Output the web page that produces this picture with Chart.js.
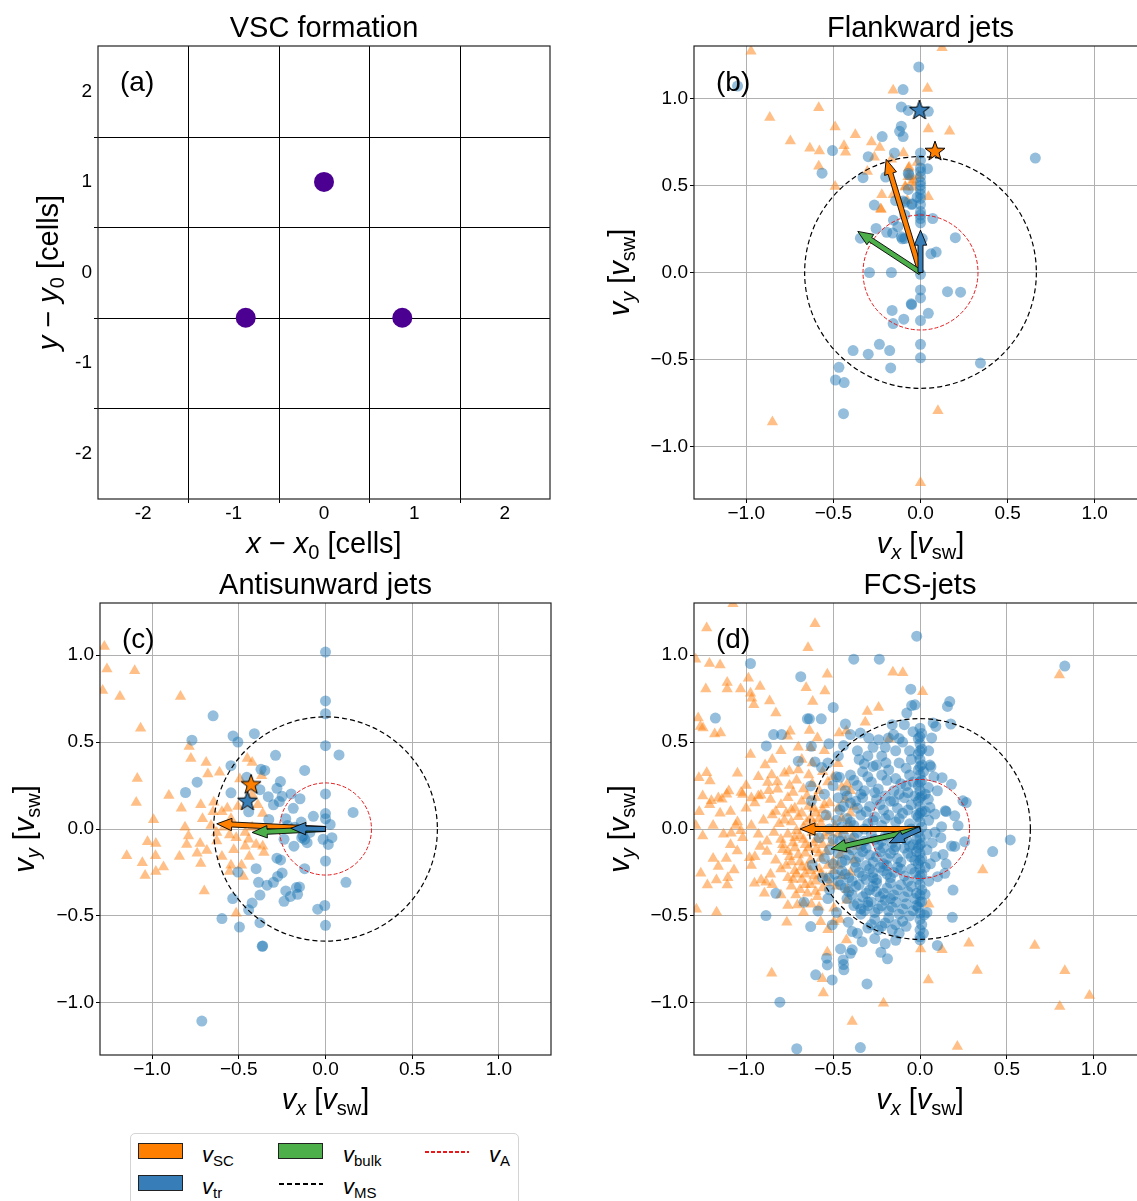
<!DOCTYPE html>
<html>
<head>
<meta charset="utf-8">
<script src="https://cdn.jsdelivr.net/npm/chart.js@4.4.1/dist/chart.umd.min.js"></script>
<style>
  html, body { margin: 0; padding: 0; background: #fff; width: 1137px; height: 1201px; overflow: hidden; position: relative; }
  canvas { position: absolute; }
  #legend { position: absolute; left: 130px; top: 1133px; width: 387px; height: 90px; border: 1px solid #d4d4d4; border-radius: 5px; background: #fff; }
  #legend .patch { position: absolute; width: 45px; height: 16px; border: 1px solid #222; box-sizing: border-box; }
  #legend .dash { position: absolute; width: 44px; height: 1.5px; }
  #legend .lbl { position: absolute; font-family: "Liberation Sans", Arial, sans-serif; font-size: 22px; line-height: 22px; color: #000; white-space: nowrap; }
  #legend .lbl i { font-style: italic; }
  #legend .lbl sub { font-size: 15px; vertical-align: -4px; }
</style>
</head>
<body>
<canvas id="pa" width="572" height="583"></canvas>
<canvas id="pb" width="573" height="583"></canvas>
<canvas id="pc" width="571" height="582"></canvas>
<canvas id="pd" width="572" height="582"></canvas>

<div id="legend">
  <div class="patch" style="left:7px;top:9px;background:#ff7f00"></div>
  <div class="lbl" style="left:71px;top:10px"><i>v</i><sub>SC</sub></div>
  <div class="patch" style="left:147px;top:9px;background:#4daf4a"></div>
  <div class="lbl" style="left:212px;top:10px"><i>v</i><sub>bulk</sub></div>
  <div class="dash" style="left:294px;top:17px;background:repeating-linear-gradient(90deg,#e41a1c 0 4px,transparent 4px 6px)"></div>
  <div class="lbl" style="left:358px;top:10px"><i>v</i><sub>A</sub></div>
  <div class="patch" style="left:7px;top:41px;background:#377eb8"></div>
  <div class="lbl" style="left:71px;top:42px"><i>v</i><sub>tr</sub></div>
  <div class="dash" style="left:148px;top:49px;background:repeating-linear-gradient(90deg,#000 0 5px,transparent 5px 8px)"></div>
  <div class="lbl" style="left:212px;top:42px"><i>v</i><sub>MS</sub></div>
</div>

<script>
// ── Data ──────────────────────────────────────────────────
// (a) virtual spacecraft positions, in cells
const formationPos = [[0, 1], [-0.866, -0.5], [0.866, -0.5]];
const cellTicks = [-2, -1, 0, 1, 2];
const cellGrid  = [-1.5, -0.5, 0.5, 1.5];
const jetTicks  = [-1.0, -0.5, 0, 0.5, 1.0];

// (b) flankward jets
const flankSC = [
  [-0.973,1.27],[0.124,1.29],[-0.157,1.046],[0.04,1.056],[-0.584,0.946],[-0.865,0.889],[-0.49,0.835],
  [0.045,0.824],[0.167,0.81],[-0.374,0.79],[-0.747,0.755],[-0.281,0.749],[-0.439,0.728],[-0.234,0.717],
  [-0.635,0.713],[-0.58,0.697],[-0.43,0.69],[-0.098,0.686],[-0.265,0.661],[-0.167,0.65],[-0.584,0.61],
  [-0.069,0.598],[-0.305,0.58],[-0.49,0.494],[-0.088,0.494],[-0.05,0.52],[-0.06,0.55],[-0.222,0.446],
  [-0.157,0.446],[0.045,0.435],[-0.226,0.362],[0.1,-0.793],[-0.85,-0.858],[0,-1.207],
  [-0.065,0.604],[-0.019,0.632],[-0.072,0.55],[-0.038,0.531],[-0.086,0.489],[-0.042,0.489],
  [-0.076,0.413],[-0.01,0.556],[-0.229,0.365]
];
const flankTr = [
  [-0.01,1.18],[-0.10,1.05],[-0.11,0.95],[-0.07,0.93],[0.045,0.925],[-0.11,0.84],[-0.12,0.81],[-0.10,0.78],
  [-0.22,0.78],[-0.505,0.70],[-0.30,0.665],[-0.15,0.686],[0,0.686],[0,0.644],[-0.565,0.57],[-0.33,0.544],
  [-0.20,0.548],[-0.07,0.57],[0.04,0.596],[0,0.60],[0,0.58],[0,0.55],[0,0.52],[0,0.50],[0,0.477],[0,0.45],
  [0,0.425],[0,0.39],[0,0.35],[0,0.33],[0,0.31],[0,0.285],[0.07,0.31],[-0.07,0.477],[-0.05,0.39],
  [-0.10,0.41],[-0.09,0.33],[-0.265,0.387],[-0.155,0.30],[-0.255,0.253],[-0.13,0.263],[-0.16,0.226],
  [-0.11,0.205],[-0.09,0.195],[-0.345,0.197],[0.01,0.195],[0.2,0.2],[0.06,0.107],[0.09,0.117],
  [-0.293,0],[-0.167,0],[0,-0.01],[0,-0.1],[0,-0.146],[0.155,-0.11],[0.23,-0.113],[-0.053,-0.18],
  [-0.163,-0.218],[0.045,-0.234],[-0.096,-0.268],[0,-0.276],[-0.157,-0.293],[0,-0.412],[-0.236,-0.412],
  [-0.177,-0.448],[-0.387,-0.448],[-0.30,-0.469],[0,-0.49],[0.344,-0.52],[-0.468,-0.544],[-0.171,-0.548],
  [-0.488,-0.617],[-0.438,-0.632],[-0.442,-0.81],[0.659,0.657],[-1.05,1.07],
  [-0.067,0.56],[-0.143,0.413],[-0.091,0.403],[-0.048,0.394],[-0.019,0.432],[-0.194,0.231],[-0.105,0.193],
  [-0.051,-0.185]
];
const flankStarSC = [[0.083, 0.697]];
const flankStarTr = [[-0.006, 0.933]];
const flankVec = { sc: [-0.197, 0.65], bulk: [-0.36, 0.236], tr: [0, 0.243] };
const flankRadii = [0.665, 0.33];   // vMS, vA

// (c) antisunward jets
const antiSC = [
  [-1.275,1.05],[-1.26,0.921],[-1.10,0.911],[-1.285,0.796],[-1.185,0.762],[-0.836,0.762],[-1.066,0.58],
  [-0.786,0.475],[-0.776,0.406],[-0.688,0.382],[-0.678,0.317],[-0.611,0.327],[-1.085,0.291],[-0.451,0.406],
  [-0.423,0.382],[-0.494,0.287],[-0.368,0.307],[-1.091,0.152],[-0.903,0.192],[-0.831,0.119],[-0.719,0.139],
  [-0.709,0.059],[-0.644,0.154],[-0.597,0.099],[-0.566,0.119],[-0.505,0.129],[-0.991,0.053],[-0.81,0.01],
  [-0.79,-0.04],[-1.026,-0.073],[-0.978,-0.083],[-0.80,-0.089],[-0.723,-0.083],[-0.627,-0.069],
  [-0.553,-0.034],[-0.515,-0.05],[-0.443,-0.059],[-0.40,-0.089],[-0.362,-0.099],[-0.355,-0.135],
  [-1.146,-0.154],[-0.98,-0.154],[-0.842,-0.158],[-0.74,-0.139],[-0.684,-0.123],[-0.597,-0.158],
  [-0.529,-0.119],[-0.463,-0.099],[-0.439,-0.158],[-1.056,-0.194],[-0.719,-0.198],[-0.545,-0.208],
  [-0.484,-0.208],[-0.934,-0.218],[-0.978,-0.244],[-1.04,-0.267],[-0.553,-0.244],[-0.474,-0.273],
  [-0.699,-0.356],[-0.515,-0.485],[-0.648,0.099],[-0.66,0.02],[-0.627,-0.02],[-0.586,0.01],
  [-0.463,-0.02],[-0.423,0.01],[-0.545,0.059],[-0.362,0.089],[-0.423,0.198],[-0.39,0.14]
];
const antiTr = [
  [0,1.018],[0,0.737],[0,0.663],[-0.648,0.651],[-0.77,0.511],[-0.533,0.535],[-0.505,0.50],[-0.41,0.548],
  [0,0.479],[0.078,0.426],[-0.288,0.424],[-0.12,0.337],[-0.545,0.364],[-0.372,0.343],[-0.35,0.337],
  [-0.74,0.269],[-0.807,0.21],[-0.545,0.208],[-0.454,0.297],[-0.378,0.226],[-0.26,0.273],[-0.28,0.234],
  [-0.25,0.188],[-0.33,0.186],[-0.30,0.139],[-0.266,0.158],[-0.198,0.202],[-0.147,0.174],[-0.186,0.119],
  [0,0.202],[0.159,0.095],[-0.07,0.073],[0,0.089],[0,0.059],[0.027,0.026],[-0.327,0.055],[-0.229,0.059],
  [-0.219,0.02],[-0.178,0.01],[-0.137,-0.05],[-0.106,-0.079],[-0.239,-0.059],[-0.182,-0.099],
  [-0.259,-0.178],[-0.28,-0.168],[-0.12,-0.228],[-0.014,-0.059],[0.037,-0.05],[0.016,-0.089],[0,-0.184],
  [-0.40,-0.228],[-0.25,-0.253],[-0.276,-0.273],[-0.386,-0.307],[-0.337,-0.323],[-0.30,-0.307],
  [0.118,-0.307],[-0.505,-0.248],[-0.168,-0.337],[-0.15,-0.333],[-0.229,-0.356],[-0.378,-0.38],
  [-0.535,-0.40],[-0.423,-0.426],[-0.239,-0.416],[-0.202,-0.388],[-0.161,-0.376],[-0.045,-0.461],
  [-0.004,-0.44],[-0.443,-0.465],[-0.597,-0.515],[-0.378,-0.539],[-0.496,-0.564],[0,-0.554],
  [-0.362,-0.673],[-0.365,-0.675],[-0.713,-1.105],[-0.443,0.099],[-0.12,-0.06],[-0.09,-0.02],
  [-0.13,-0.04],[-0.14,0.04]
];
const antiStarSC = [[-0.429, 0.257]];
const antiStarTr = [[-0.45, 0.162]];
const antiVec = { sc: [-0.627, 0.03], bulk: [-0.423, -0.02], tr: [-0.2, 0.004] };
const antiRadii = [0.645, 0.265];

// (d) FCS-jets
const fcsSC = [
  // upper left
  [-1.076,1.295],[-1.227,1.156],[-0.604,1.181],[-0.644,1.042],[-1.211,0.952],[-1.15,0.943],[-1.29,0.977],
  [-0.987,0.867],[-1.109,0.842],[-1.109,0.806],[-1.232,0.806],[-1.032,0.806],[-0.92,0.819],[-0.975,0.781],
  [-0.968,0.752],[-0.956,0.714],[-0.865,0.737],[-0.655,0.813],[-0.547,0.794],[-0.533,0.89],[-0.617,0.733],
  [-0.303,0.676],[-0.238,0.699],[-0.156,0.901],[-0.099,0.899],[-0.829,0.667],[-1.276,0.638],[-1.263,0.59],
  [-1.248,0.581],[-1.181,0.547],[-1.147,0.552],[-0.747,0.562],[-0.762,0.533],[-0.636,0.566],[-0.59,0.524],
  [-0.465,0.552],[-0.629,0.467],[-0.975,0.429],[-0.472,0.375],[-0.891,0.368],[-1.227,0.324],[-1.208,0.276],
  [-1.272,0.295],[-0.853,0.31],[-0.752,0.333],[-0.876,0.267],[-0.419,0.257],[-1.112,0.2],[-1.029,0.21],
  [-0.93,0.19],[-0.819,0.229],[-1.2,0.162],[-1.139,0.171],[-0.315,0.614],[-0.177,0.519],[-0.423,0.564],
  [-0.85,0.40],[-0.80,0.45],[-0.70,0.47],[-0.68,0.40],[-0.62,0.38],[-0.55,0.45],[-0.93,0.30],[-1.0,0.25],
  [-1.05,0.32],
  // dense band
  [-0.78,0.32],[-0.70,0.34],[-0.64,0.31],[-0.56,0.33],[-0.50,0.30],
  [-0.82,0.27],[-0.75,0.25],[-0.71,0.28],[-0.67,0.23],[-0.62,0.26],[-0.58,0.22],[-0.53,0.27],[-0.45,0.24],[-0.40,0.22],
  [-0.86,0.17],[-0.80,0.14],[-0.76,0.18],[-0.72,0.12],[-0.68,0.16],[-0.64,0.13],[-0.60,0.18],[-0.56,0.11],
  [-0.52,0.15],[-0.47,0.12],[-0.43,0.17],[-0.38,0.13],[-0.95,0.15],[-1.0,0.12],
  [-0.90,0.05],[-0.85,0.08],[-0.81,0.03],[-0.77,0.09],[-0.74,0.04],[-0.70,0.07],[-0.67,0.01],[-0.63,0.06],
  [-0.60,0.09],[-0.57,0.03],[-0.53,0.07],[-0.49,0.02],[-0.45,0.06],[-0.41,0.03],[-0.97,0.02],[-1.05,0.04],
  [-0.93,-0.03],[-0.88,-0.07],[-0.84,-0.02],[-0.80,-0.06],[-0.76,-0.03],[-0.73,-0.08],[-0.69,-0.04],
  [-0.66,-0.09],[-0.62,-0.02],[-0.59,-0.06],[-0.55,-0.04],[-0.51,-0.08],[-0.47,-0.03],[-0.43,-0.07],
  [-0.39,-0.05],[-1.02,-0.05],
  [-0.95,-0.16],[-0.88,-0.13],[-0.83,-0.18],[-0.79,-0.12],[-0.75,-0.16],[-0.72,-0.11],[-0.69,-0.19],
  [-0.66,-0.14],[-0.63,-0.18],[-0.60,-0.12],[-0.57,-0.17],[-0.54,-0.13],[-0.50,-0.19],[-0.46,-0.15],
  [-0.42,-0.12],[-0.38,-0.18],
  [-0.86,-0.26],[-0.80,-0.23],[-0.76,-0.28],[-0.72,-0.24],[-0.68,-0.29],[-0.65,-0.22],[-0.61,-0.27],
  [-0.58,-0.23],[-0.54,-0.28],[-0.50,-0.24],[-0.45,-0.27],[-0.40,-0.25],
  [-0.74,-0.33],[-0.69,-0.35],[-0.63,-0.32],[-0.56,-0.34],[-0.48,-0.33],[-0.42,-0.35],
  [-0.78,0.05],[-0.74,0.11],[-0.71,-0.01],[-0.68,0.09],[-0.65,0.04],[-0.61,0.12],[-0.58,0.06],[-0.55,0.14],
  [-0.79,-0.09],[-0.76,-0.13],[-0.72,-0.05],[-0.70,-0.15],[-0.67,-0.06],[-0.64,-0.11],[-0.61,-0.08],
  [-0.58,-0.14],[-0.56,-0.09],
  [-0.77,-0.21],[-0.74,-0.19],[-0.71,-0.26],[-0.68,-0.22],[-0.66,-0.26],[-0.63,-0.24],[-0.60,-0.30],
  [-0.57,-0.26],[-0.53,-0.21],[-0.73,-0.29],[-0.66,-0.32],[-0.60,-0.36],[-0.52,-0.31],
  [-0.83,0.10],[-0.87,0.22],[-0.73,0.21],[-0.65,0.19],[-0.61,0.03],[-0.47,-0.21],[-0.44,-0.01],
  [-0.52,-0.02],[-0.40,0.09],[-0.36,-0.10],
  [-0.92,-0.10],[-0.97,-0.21],[-0.85,-0.32],[-0.80,-0.38],[-0.76,-0.44],[-0.67,-0.48],[-0.58,-0.45],
  [-0.53,-0.58],[-0.46,-0.52],
  // far left
  [-1.27,0.099],[-1.21,0.139],[-1.16,0.178],[-1.25,0.19],[-1.29,0.02],[-1.10,0.218],[-1.02,0.198],
  [-0.97,0.178],[-0.915,0.194],[-1.09,0.1],[-1.15,0.09],[-1.19,0.02],[-1.06,0.02],[-1.03,-0.01],
  [-1.13,-0.03],[-1.09,-0.09],[-1.25,-0.04],[-1.19,-0.17],
  // lower left
  [-0.853,-0.83],[-0.766,-0.536],[-1.17,-0.479],[-1.286,-0.462],[-0.556,-0.944],[-0.562,-0.862],
  [-0.533,-0.709],[-0.423,-0.638],[-0.39,-1.107],[-0.21,-1.002],[-0.495,-0.533],[-0.571,-0.533],
  [-0.895,-0.37],[-1.223,-0.322],[-1.171,-0.293],[-1.109,-0.322],[-1.261,-0.255],[-1.16,-0.216],
  [-1.07,-0.236],[-1.105,-0.28],[-1.114,-0.169],[-1.051,-0.126],[-0.981,-0.165],[-0.914,-0.293],
  [-0.952,-0.312],[-0.886,-0.307],[-1.086,-0.025],[-0.714,-0.379],[-0.648,-0.37],[-0.59,-0.389],
  [-0.705,-0.437],[-0.625,-0.433],[-0.495,-0.456],[-0.42,-0.41],[-0.669,-0.426],
  // right side
  [0.361,-0.236],[0.051,-0.433],[0.004,-0.69],[0.127,-0.695],[0.281,-0.657],[0.66,-0.67],[0.329,-0.814],
  [0.048,-0.868],[0.833,-0.816],[0.975,-0.958],[0.804,-1.021],[0.215,-1.251],[0.015,0.79],[0.802,0.886]
];
const fcsTr = [
  // outer points
  [-0.019,1.109],[-0.381,0.977],[-0.234,0.977],[-0.975,0.952],[-0.686,0.876],[-0.053,0.804],[-0.048,0.71],
  [-0.499,0.699],[-1.177,0.638],[-0.648,0.634],[-0.636,0.634],[-0.568,0.634],[-0.076,0.667],[-0.429,0.604],
  [-0.343,0.552],[-0.4,0.543],[-0.842,0.543],[-0.796,0.543],[-0.524,0.49],[-0.884,0.478],[-0.625,0.476],
  [-0.295,0.524],[-0.238,0.514],[-0.181,0.524],[-0.152,0.543],[-0.32,0.375],[-0.251,0.368],[-0.196,0.381],
  [-0.566,0.354],[-0.629,0.248],[-0.625,0.162],[-0.70,0.39],[-0.604,0.386],[-0.463,0.297],
  [0.833,0.937],[0.171,0.733],[0.158,0.705],[-0.029,0.714],[0.076,0.61],[0.091,0.59],[0.177,0.604],
  [0.067,0.524],[0.057,0.368],[0.063,0.358],[0.127,0.295],[0.181,0.257],[0.048,0.238],[0.247,0.162],
  [0.266,0.152],[0.146,0.105],[0.086,0.086],[0.2,0.076],[0.219,0.019],[0.124,0.013],[0.048,0.171],[0.057,0.124],
  [0.519,-0.063],[0.418,-0.13],[0.257,-0.073],[0.181,-0.098],[0.133,-0.146],[0.089,-0.159],[0.143,-0.255],
  [0.101,-0.274],[0.19,-0.351],[0.029,-0.375],[0.01,-0.418],[0,-0.485],[0.025,-0.494],[0.186,-0.508],
  [0,-0.58],[0,-0.638],[0.1,-0.67],[0.086,-0.019],
  [-0.829,-0.37],[-0.886,-0.498],[-0.629,-0.561],[-0.505,-0.552],[-0.413,-0.536],[-0.587,-0.471],
  [-0.667,-0.421],[-0.39,-0.59],[-0.36,-0.6],[-0.333,-0.648],[-0.457,-0.69],[-0.39,-0.695],[-0.4,-0.715],
  [-0.537,-0.743],[-0.533,-0.782],[-0.442,-0.753],[-0.438,-0.81],[-0.44,-0.78],[-0.225,-0.709],
  [-0.187,-0.747],[-0.6,-0.839],[-0.505,-0.868],[-0.305,-0.891],[-0.806,-0.996],[-0.709,-1.264],
  [-0.343,-1.257],[-0.619,-0.207],[-0.524,-0.284],[-0.52,-0.35],[-0.457,-0.322],[-0.42,-0.40],
  [-0.38,-0.44],[-0.34,-0.46],[-0.30,-0.42],
  // column near vx = 0
  [0,0.58],[0.01,0.55],[-0.01,0.52],[0,0.49],[0.01,0.46],[-0.01,0.43],[0,0.40],[0.01,0.37],[-0.01,0.34],
  [0,0.31],[0.01,0.28],[-0.01,0.25],[0,0.22],[0.01,0.19],[-0.01,0.16],[0,0.13],[0.01,0.10],[-0.01,0.07],
  [0,0.04],[0.01,0.01],[-0.01,-0.02],[0,-0.05],[0.01,-0.08],[-0.01,-0.11],[0,-0.14],[0.01,-0.17],
  [-0.01,-0.20],[0,-0.23],[0.01,-0.26],[-0.01,-0.29],[0,-0.32],[0.01,-0.35],[-0.01,-0.45],[0,-0.52],
  [0.01,-0.55],[0,-0.62],[0,0.53],[0,0.45],[0,0.36],[0,0.27],[0,0.18],[0,0.09],[0,-0.09],[0,-0.18],
  [0,-0.27],[0,-0.38],[0,-0.42],
  // dense core
  [-0.33,0.33],[-0.27,0.36],[-0.18,0.34],[-0.12,0.38],[-0.06,0.31],[-0.40,0.31],
  [-0.36,0.25],[-0.32,0.22],[-0.28,0.27],[-0.24,0.23],[-0.19,0.28],[-0.15,0.22],[-0.11,0.26],[-0.07,0.21],
  [-0.04,0.27],[-0.43,0.22],
  [-0.40,0.15],[-0.36,0.12],[-0.33,0.18],[-0.29,0.13],[-0.25,0.17],[-0.21,0.11],[-0.17,0.16],[-0.13,0.12],
  [-0.09,0.18],[-0.05,0.14],[-0.46,0.11],
  [-0.42,0.06],[-0.38,0.02],[-0.34,0.08],[-0.30,0.03],[-0.26,0.07],[-0.22,0.02],[-0.18,0.08],[-0.14,0.04],
  [-0.10,0.09],[-0.06,0.03],[-0.48,0.05],
  [-0.44,-0.04],[-0.40,-0.08],[-0.36,-0.02],[-0.32,-0.07],[-0.28,-0.03],[-0.24,-0.09],[-0.20,-0.04],
  [-0.16,-0.08],[-0.12,-0.02],[-0.08,-0.06],[-0.04,-0.09],
  [-0.47,-0.14],[-0.43,-0.18],[-0.39,-0.12],[-0.35,-0.16],[-0.31,-0.11],[-0.27,-0.19],[-0.23,-0.13],
  [-0.19,-0.17],[-0.15,-0.12],[-0.11,-0.19],[-0.07,-0.14],[-0.03,-0.18],[-0.29,-0.15],[-0.21,-0.2],
  [-0.45,-0.24],[-0.41,-0.28],[-0.37,-0.22],[-0.33,-0.27],[-0.29,-0.23],[-0.25,-0.29],[-0.21,-0.24],
  [-0.17,-0.28],[-0.13,-0.22],[-0.09,-0.27],[-0.05,-0.23],[-0.31,-0.29],[-0.19,-0.21],[-0.27,-0.25],
  [-0.43,-0.34],[-0.39,-0.38],[-0.35,-0.32],[-0.31,-0.37],[-0.27,-0.33],[-0.23,-0.39],[-0.19,-0.34],
  [-0.15,-0.38],[-0.11,-0.32],[-0.07,-0.36],[-0.03,-0.40],[-0.25,-0.36],[-0.17,-0.31],
  [-0.36,-0.43],[-0.32,-0.47],[-0.28,-0.42],[-0.24,-0.46],[-0.20,-0.41],[-0.16,-0.45],[-0.12,-0.49],
  [-0.08,-0.43],[-0.04,-0.47],
  [-0.26,-0.52],[-0.22,-0.56],[-0.18,-0.51],[-0.14,-0.55],[-0.30,-0.57],[-0.10,-0.53],
  [-0.38,0.28],[-0.30,0.30],[-0.22,0.31],[-0.14,0.29],[-0.08,0.25],
  [-0.42,0.19],[-0.34,0.20],[-0.26,0.21],[-0.20,0.19],[-0.12,0.20],[-0.03,0.19],
  [-0.44,0.13],[-0.37,0.16],[-0.31,0.10],[-0.23,0.14],[-0.15,0.16],[-0.07,0.11],[-0.02,0.08],
  [-0.45,0.01],[-0.40,0.04],[-0.32,0.00],[-0.27,0.05],[-0.20,0.06],[-0.12,0.06],[-0.05,0.00],
  [-0.46,-0.07],[-0.38,-0.05],[-0.34,-0.10],[-0.26,-0.06],[-0.22,-0.07],[-0.18,-0.02],[-0.14,-0.10],
  [-0.10,-0.05],[-0.06,-0.10],[-0.02,-0.06],
  [-0.45,-0.19],[-0.41,-0.15],[-0.37,-0.19],[-0.33,-0.13],[-0.25,-0.16],[-0.21,-0.11],[-0.17,-0.14],
  [-0.13,-0.17],[-0.09,-0.11],[-0.05,-0.16],[-0.02,-0.13],
  [-0.47,-0.30],[-0.43,-0.26],[-0.39,-0.30],[-0.35,-0.25],[-0.31,-0.21],[-0.27,-0.28],[-0.23,-0.22],
  [-0.19,-0.26],[-0.15,-0.25],[-0.11,-0.23],[-0.07,-0.30],[-0.03,-0.25],
  [-0.41,-0.36],[-0.37,-0.33],[-0.33,-0.39],[-0.29,-0.35],[-0.25,-0.31],[-0.21,-0.37],[-0.17,-0.40],
  [-0.13,-0.35],[-0.09,-0.39],[-0.05,-0.33],[-0.02,-0.37],
  [-0.34,-0.49],[-0.30,-0.44],[-0.26,-0.48],[-0.22,-0.44],[-0.18,-0.47],[-0.14,-0.42],[-0.10,-0.46],
  [-0.06,-0.50],[-0.02,-0.44],
  [-0.28,-0.55],[-0.24,-0.58],[-0.20,-0.54],[-0.16,-0.58],[-0.12,-0.60],[-0.08,-0.56],[-0.26,-0.63],
  [-0.20,-0.66],[-0.14,-0.64],
  [-0.54,0.08],[-0.52,0.0],[-0.50,-0.06],[-0.55,-0.17],[-0.49,-0.26],[-0.53,-0.40],[-0.48,-0.48],
  [-0.35,0.40],[-0.30,0.42],[-0.20,0.47],[-0.12,0.52],[-0.05,0.40],[-0.08,0.35],
  [0.03,0.10],[0.04,-0.03],[0.03,-0.22],[0.07,-0.08],[0.02,0.33],[0.05,0.45],[0.04,-0.48],[0.02,-0.6],
  [0.05,0.05],[0.04,-0.12],[0.06,-0.2],[0.03,0.2],[0.08,0.3],[0.1,0.22],[0.12,-0.05],[0.15,0.1],
  [0.2,-0.1],[0.15,-0.2],[0.05,-0.3],
  [-0.55,0.2],[-0.5,0.25],[-0.47,0.18],[-0.58,-0.05],[-0.52,-0.12],[-0.5,-0.2],[-0.56,-0.28],[-0.48,0.3],
  [-0.53,0.38],[-0.47,0.42],[-0.44,0.48],[-0.36,0.45],[-0.27,0.47],[-0.22,0.42],[-0.14,0.45],[-0.1,0.5],
  [-0.06,0.45],[-0.09,0.6],[-0.04,0.56],[-0.16,0.6]
];
const fcsVec = { sc: [-0.69, 0.0], bulk: [-0.512, -0.115], tr: [-0.177, -0.08] };
const fcsRadii = [0.635, 0.285];

// ── Style ─────────────────────────────────────────────────
const FONT = '"Liberation Sans", Arial, Helvetica, sans-serif';
const C_SC = '#ff7f00', C_TR = '#377eb8', C_BULK = '#4daf4a';
const PT_TR = 'rgba(31,119,180,0.48)', PT_SC = 'rgba(255,127,14,0.5)';

const asXY = list => list.map(([x, y]) => ({ x, y }));
const jetTick = v => v === 0 ? '0.0' : (v < 0 ? '\u2212' : '') + Math.abs(v).toFixed(1);

// filled 5-point star used as a point marker
function makeStar(fill) {
  const c = document.createElement('canvas');
  c.width = 24; c.height = 24;
  const g = c.getContext('2d');
  g.beginPath();
  for (let i = 0; i < 10; i++) {
    const r = i % 2 ? 4.2 : 10.5;
    const a = -Math.PI / 2 + i * Math.PI / 5;
    g.lineTo(12 + r * Math.cos(a), 12.5 + r * Math.sin(a));
  }
  g.closePath();
  g.fillStyle = fill; g.fill();
  g.strokeStyle = '#000'; g.lineWidth = 1; g.stroke();
  return c;
}

// mixed italic / subscript label: parts = [[text, kind]], kind 'n' | 'i' | 's' | 'is'
function richText(ctx, parts, x, y, size, vertical) {
  ctx.save();
  ctx.translate(x, y);
  if (vertical) ctx.rotate(-Math.PI / 2);
  const sub = Math.round(size * 0.7);
  const fontFor = k => (k.includes('i') ? 'italic ' : '') + (k.includes('s') ? sub : size) + 'px ' + FONT;
  let total = 0;
  const widths = parts.map(([t, k]) => { ctx.font = fontFor(k); const w = ctx.measureText(t).width; total += w; return w; });
  let cx = -total / 2;
  ctx.textAlign = 'left'; ctx.textBaseline = 'alphabetic'; ctx.fillStyle = '#000';
  parts.forEach(([t, k], i) => {
    ctx.font = fontFor(k);
    ctx.fillText(t, cx, k.includes('s') ? size * 0.2 : 0);
    cx += widths[i];
  });
  ctx.restore();
}

function drawArrow(ctx, x0, y0, x1, y1, color) {
  const len = Math.hypot(x1 - x0, y1 - y0);
  if (len < 1) return;
  const ux = (x1 - x0) / len, uy = (y1 - y0) / len, nx = -uy, ny = ux;
  const w = 2.5, hw = 6.2, hl = Math.min(15, len);
  const bx = x1 - ux * hl, by = y1 - uy * hl;
  ctx.beginPath();
  ctx.moveTo(x0 + nx * w, y0 + ny * w);
  ctx.lineTo(bx + nx * w, by + ny * w);
  ctx.lineTo(bx + nx * hw, by + ny * hw);
  ctx.lineTo(x1, y1);
  ctx.lineTo(bx - nx * hw, by - ny * hw);
  ctx.lineTo(bx - nx * w, by - ny * w);
  ctx.lineTo(x0 - nx * w, y0 - ny * w);
  ctx.closePath();
  ctx.fillStyle = color; ctx.fill();
  ctx.strokeStyle = '#000'; ctx.lineWidth = 0.9; ctx.stroke();
}

// titles, spines, labels, reference circles and mean-velocity arrows
const decor = {
  id: 'decor',
  beforeDatasetsDraw(chart, args, o) {
    if (!o.cellGrid) return;
    const { ctx, chartArea: a, scales: { x, y } } = chart;
    ctx.save();
    ctx.strokeStyle = '#000'; ctx.lineWidth = 1;
    o.cellGrid.forEach(v => {
      const px = Math.round(x.getPixelForValue(v)) + 0.5, py = Math.round(y.getPixelForValue(v)) + 0.5;
      ctx.beginPath();
      ctx.moveTo(px, a.top); ctx.lineTo(px, a.bottom + 4);
      ctx.moveTo(a.left - 4, py); ctx.lineTo(a.right, py);
      ctx.stroke();
    });
    ctx.restore();
  },
  afterDatasetsDraw(chart, args, o) {
    const { ctx, chartArea: a, scales: { x, y } } = chart;
    ctx.save();
    ctx.beginPath(); ctx.rect(a.left, a.top, a.right - a.left, a.bottom - a.top); ctx.clip();
    const ox = x.getPixelForValue(0), oy = y.getPixelForValue(0);
    if (o.radii) {
      [[o.radii[0], '#000', [5, 3], 1.2], [o.radii[1], '#e41a1c', [4, 2], 1]].forEach(([r, col, dash, lw]) => {
        ctx.beginPath();
        ctx.ellipse(ox, oy, x.getPixelForValue(r) - ox, oy - y.getPixelForValue(r), 0, 0, Math.PI * 2);
        ctx.setLineDash(dash); ctx.strokeStyle = col; ctx.lineWidth = lw; ctx.stroke();
      });
      ctx.setLineDash([]);
    }
    if (o.vec) {
      [[o.vec.sc, C_SC], [o.vec.bulk, C_BULK], [o.vec.tr, C_TR]].forEach(([v, col]) => {
        drawArrow(ctx, ox, oy, x.getPixelForValue(v[0]), y.getPixelForValue(v[1]), col);
      });
    }
    ctx.restore();
  },
  afterDraw(chart, args, o) {
    const { ctx, chartArea: a } = chart;
    ctx.save();
    ctx.strokeStyle = '#222'; ctx.lineWidth = 1.2;
    ctx.strokeRect(a.left, a.top, a.right - a.left, a.bottom - a.top);
    ctx.fillStyle = '#000';
    ctx.font = '29px ' + FONT;
    ctx.textAlign = 'center'; ctx.textBaseline = 'alphabetic';
    ctx.fillText(o.title, (a.left + a.right) / 2, a.top - 9);
    ctx.font = '28px ' + FONT;
    ctx.textAlign = 'left';
    ctx.fillText(o.tag, a.left + 22, a.top + 45);
    ctx.restore();
    richText(ctx, o.xLabel, (a.left + a.right) / 2, a.bottom + 54, 29, false);
    richText(ctx, o.yLabel, a.left + o.yOff, (a.top + a.bottom) / 2, 29, true);
  }
};

const vLabelX = [['v', 'i'], ['x', 'is'], [' [', 'n'], ['v', 'i'], ['sw', 's'], [']', 'n']];
const vLabelY = [['v', 'i'], ['y', 'is'], [' [', 'n'], ['v', 'i'], ['sw', 's'], [']', 'n']];

function axis(lim, ticks, fmt, isX, gridOn) {
  return {
    type: 'linear', min: -lim, max: lim,
    afterBuildTicks: s => { s.ticks = ticks.map(v => ({ value: v })); },
    afterFit: s => { if (isX) s.height = 70; else s.width = 100; },
    ticks: { callback: fmt, color: '#000', font: { family: FONT, size: 19 }, padding: isX ? -1 : 2, maxRotation: 0, autoSkip: false },
    grid: { display: gridOn, color: '#b0b0b0', lineWidth: 1, tickColor: '#000', tickLength: 4, drawTicks: true },
    border: { display: false }
  };
}

function panel(id, box, datasets, scales, decorOpts) {
  const [L, T] = box;
  const el = document.getElementById(id);
  el.style.left = (L - 100) + 'px';
  el.style.top = (T - 60) + 'px';
  return new Chart(el, {
    type: 'scatter',
    data: { datasets },
    options: {
      responsive: false, animation: false, events: [],
      layout: { padding: { top: 60, right: 20, left: 0, bottom: 0 } },
      plugins: { legend: { display: false }, tooltip: { enabled: false }, decor: decorOpts },
      scales
    },
    plugins: [decor]
  });
}

function jetSets(sc, tr, starSC, starTr) {
  const sets = [];
  if (starSC) sets.push({ data: asXY(starSC), pointStyle: makeStar(C_SC), pointRadius: 10 });
  if (starTr) sets.push({ data: asXY(starTr), pointStyle: makeStar(C_TR), pointRadius: 10 });
  sets.push({ data: asXY(tr), pointStyle: 'circle', pointRadius: 5.5, backgroundColor: PT_TR, borderWidth: 0 });
  sets.push({ data: asXY(sc), pointStyle: 'triangle', pointRadius: 6.5, backgroundColor: PT_SC, borderWidth: 0 });
  return sets;
}

function jetScales() {
  return { x: axis(1.3, jetTicks, jetTick, true, true), y: axis(1.3, jetTicks, jetTick, false, true) };
}

// (a)
panel('pa', [98, 46],
  [{ data: asXY(formationPos), pointStyle: 'circle', pointRadius: 10, backgroundColor: '#4b0091', borderWidth: 0 }],
  { x: axis(2.5, cellTicks, v => String(v), true, false), y: axis(2.5, cellTicks, v => String(v), false, false) },
  { title: 'VSC formation', tag: '(a)', cellGrid, yOff: -40,
    xLabel: [['x', 'i'], [' \u2212 ', 'n'], ['x', 'i'], ['0', 's'], [' [cells]', 'n']],
    yLabel: [['y', 'i'], [' \u2212 ', 'n'], ['y', 'i'], ['0', 's'], [' [cells]', 'n']] });

// (b)
panel('pb', [694, 46], jetSets(flankSC, flankTr, flankStarSC, flankStarTr), jetScales(),
  { title: 'Flankward jets', tag: '(b)', radii: flankRadii, vec: flankVec, yOff: -65, xLabel: vLabelX, yLabel: vLabelY });

// (c)
panel('pc', [100, 603], jetSets(antiSC, antiTr, antiStarSC, antiStarTr), jetScales(),
  { title: 'Antisunward jets', tag: '(c)', radii: antiRadii, vec: antiVec, yOff: -66, xLabel: vLabelX, yLabel: vLabelY });

// (d)
panel('pd', [694, 603], jetSets(fcsSC, fcsTr), jetScales(),
  { title: 'FCS-jets', tag: '(d)', radii: fcsRadii, vec: fcsVec, yOff: -65, xLabel: vLabelX, yLabel: vLabelY });
</script>
</body>
</html>
